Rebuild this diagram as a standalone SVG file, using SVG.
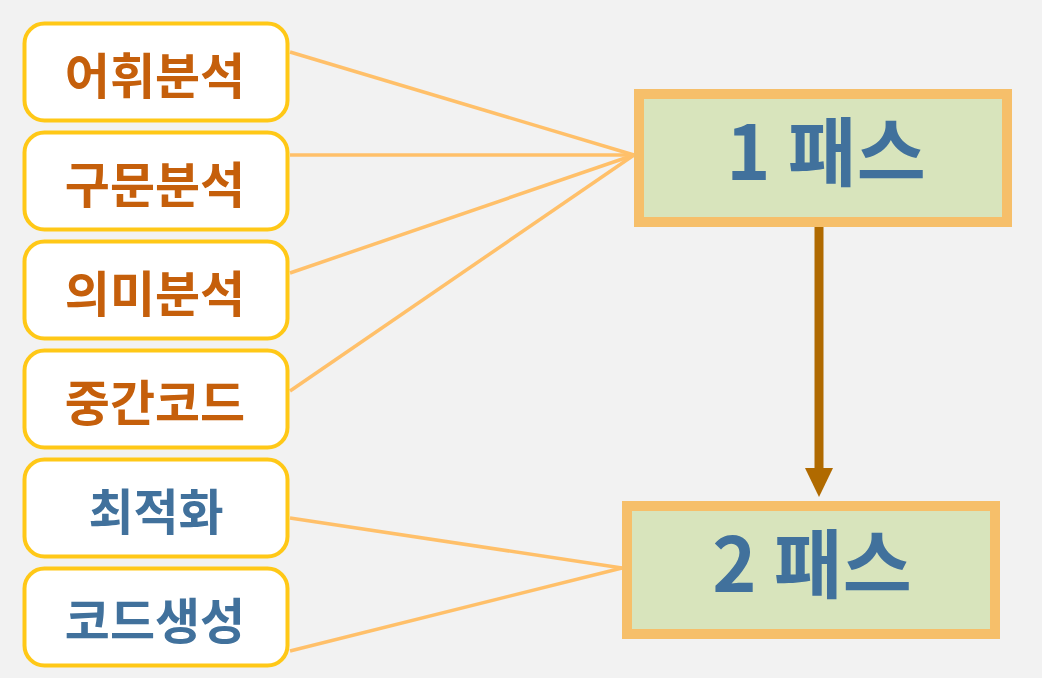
<svg xmlns="http://www.w3.org/2000/svg" width="1042" height="678" viewBox="0 0 1042 678">
<defs>
<style>
.lbox{fill:#FFFFFF;stroke:#FFC817;stroke-width:4}
.pbox{fill:#D8E4BC;stroke:#F6BF6A;stroke-width:10}
.t{font-family:"Noto Sans CJK KR","Noto Sans",sans-serif;font-weight:bold;text-anchor:middle}
.or{fill:#C55F0B;font-size:49px}
.bl{fill:#41719C;font-size:49px}
.big{fill:#41719C;font-size:75px}
.con{stroke:#FFC06A;stroke-width:3.5;fill:none}
</style>
</defs>
<rect width="1042" height="678" fill="#F2F2F2"/>
<g id="connectors">
<line class="con" x1="290" y1="52" x2="634" y2="155"/>
<line class="con" x1="290" y1="155" x2="634" y2="155"/>
<line class="con" x1="290" y1="273" x2="634" y2="155"/>
<line class="con" x1="290" y1="391" x2="634" y2="155"/>
<line class="con" x1="290" y1="518" x2="622" y2="568"/>
<line class="con" x1="290" y1="651" x2="622" y2="568"/>
<line x1="819" y1="227" x2="819" y2="468" stroke="#B06A00" stroke-width="9"/>
<path d="M805,468 L833,468 L819,497 Z" fill="#B06A00"/>
</g>
<g id="n1"><rect class="lbox" x="24.5" y="23.5" width="263" height="97" rx="20"/><text class="t or" x="155" y="94">어휘분석</text></g>
<g id="n2"><rect class="lbox" x="24.5" y="132.5" width="263" height="97" rx="20"/><text class="t or" x="155" y="203">구문분석</text></g>
<g id="n3"><rect class="lbox" x="24.5" y="241.5" width="263" height="97" rx="20"/><text class="t or" x="155" y="312">의미분석</text></g>
<g id="n4"><rect class="lbox" x="24.5" y="350.5" width="263" height="97" rx="20"/><text class="t or" x="155" y="421">중간코드</text></g>
<g id="n5"><rect class="lbox" x="24.5" y="459.5" width="263" height="97" rx="20"/><text class="t bl" x="156" y="530">최적화</text></g>
<g id="n6"><rect class="lbox" x="24.5" y="568.5" width="263" height="97" rx="20"/><text class="t bl" x="155" y="639">코드생성</text></g>
<g id="p1"><rect class="pbox" x="639" y="94" width="368" height="128"/><text class="t big" x="826" y="180">1 패스</text></g>
<g id="p2"><rect class="pbox" x="627" y="506" width="368" height="128"/><text class="t big" x="812" y="592">2 패스</text></g>
</svg>
